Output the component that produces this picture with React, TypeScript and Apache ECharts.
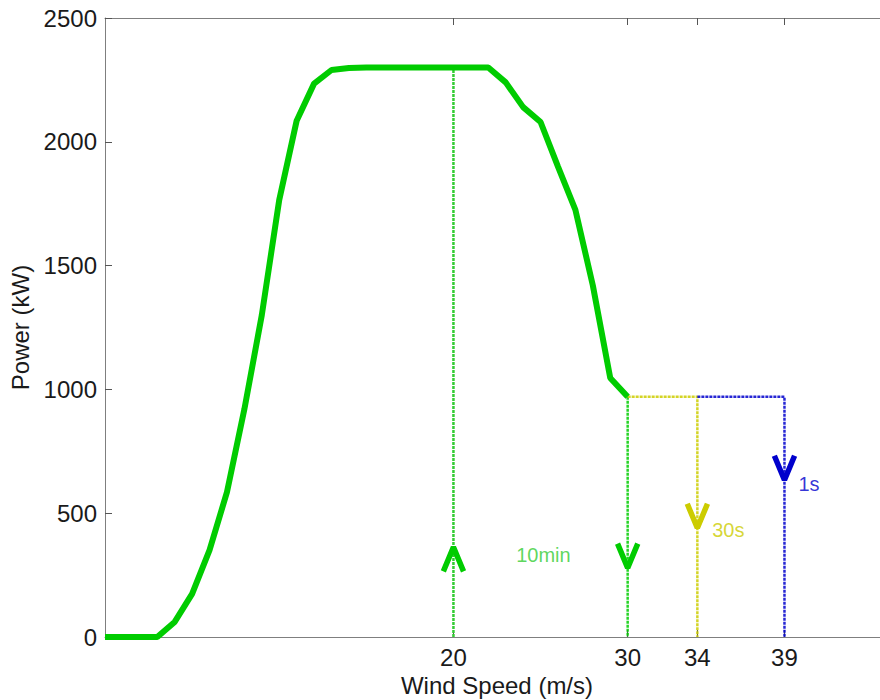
import React, { useEffect, useRef } from "react";
import * as echarts from "echarts";

// Power curve (wind speed m/s -> power kW)
const windSpeed = [0, 1, 2, 3, 4, 5, 6, 7, 8, 9, 10, 11, 12, 13, 14, 15, 16, 17, 18, 19, 20, 21, 22, 23, 24, 25, 26, 27, 28, 29, 30];
const power = [0, 0, 0, 0, 61, 174, 351, 585, 920, 1300, 1765, 2085, 2235, 2290, 2298, 2300, 2300, 2300, 2300, 2300, 2300, 2300, 2300, 2240, 2140, 2080, 1900, 1725, 1420, 1046, 970];

const xTicks = [20, 30, 34, 39];
const restartSpeed = 20;
const ratedPower = 2300;
const reducedPower = 970;
const cutoutSpeeds = [30, 34, 39];
const cutoutLabels = ["10min", "30s", "1s"];
const cutoutColors = ["#00cc00", "#cccc00", "#0000cc"];
const labelColors = ["#33cc33", "#cccc00", "#0000cc"];
const labelX = [23.6, 34.85, 39.8];
const labelY = [331, 432, 618];
const arrowTipUp = 363; // restart arrow (x = 20)
const arrowTipDown = [279, 440, 634];

const FONT = "'Liberation Sans', Arial, Helvetica, sans-serif";

export default function App() {
  const ref = useRef<HTMLDivElement>(null);
  useEffect(() => {
    if (!ref.current) return;
    document.body.style.margin = "0";
    document.body.style.overflow = "hidden";
    const chart = echarts.init(ref.current, null, { renderer: "svg" });
    const dx = 0.58;
    const dy = 98;
    const dash = [3, 1];

    const series: any[] = [];
    series.push({
      type: "line",
      data: [[restartSpeed, 0], [restartSpeed, ratedPower]],
      symbol: "none",
      lineStyle: { color: "#33cc33", width: 2.5, type: dash },
      z: 2,
    });
    cutoutSpeeds.forEach((s, i) => {
      const prev = i === 0 ? windSpeed[windSpeed.length - 1] : cutoutSpeeds[i - 1];
      const data = i === 0 ? [[s, reducedPower], [s, 0]] : [[prev, reducedPower], [s, reducedPower], [s, 0]];
      series.push({
        type: "line",
        data,
        symbol: "none",
        lineStyle: { color: cutoutColors[i], width: 2.5, type: dash, opacity: 0.85 },
        z: 2,
      });
    });
    series.push({
      type: "line",
      data: windSpeed.map((w, i) => [w, power[i]]),
      symbol: "none",
      lineStyle: { color: "#00cc00", width: 6 },
      z: 5,
    });
    series.push({
      type: "line",
      data: [[restartSpeed - dx, arrowTipUp - dy], [restartSpeed, arrowTipUp], [restartSpeed + dx, arrowTipUp - dy]],
      symbol: "none",
      lineStyle: { color: "#00cc00", width: 5.5 },
      z: 6,
    });
    cutoutSpeeds.forEach((s, i) => {
      series.push({
        type: "line",
        data: [[s - dx, arrowTipDown[i] + dy], [s, arrowTipDown[i]], [s + dx, arrowTipDown[i] + dy]],
        symbol: "none",
        lineStyle: { color: cutoutColors[i], width: 5.5 },
        z: 6,
      });
    });
    series.push({
      type: "scatter",
      symbolSize: 0,
      data: cutoutLabels.map((t, i) => ({
        value: [labelX[i], labelY[i]],
        name: t,
        label: { color: labelColors[i] },
      })),
      label: {
        show: true,
        position: "right",
        distance: 0,
        formatter: (p: any) => p.name,
        fontSize: 20,
        fontFamily: FONT,
      },
      z: 7,
    });

    const axisLineStyle = { color: "#7f7f7f", width: 1 };
    const tickStyle = { color: "#555555", width: 1 };

    chart.setOption({
      animation: false,
      grid: { left: 105, right: 11, top: 18, bottom: 63, outerBoundsMode: "none", containLabel: false },
      xAxis: [
        {
          type: "value",
          min: 0,
          max: 45,
          position: "bottom",
          axisLine: { show: true, onZero: false, lineStyle: axisLineStyle },
          axisTick: { show: true, inside: true, length: 7, customValues: xTicks, lineStyle: tickStyle },
          axisLabel: { customValues: xTicks, fontSize: 24, color: "#1a1a1a", margin: 8, fontFamily: FONT },
          splitLine: { show: false },
          name: "Wind Speed (m/s)",
          nameLocation: "middle",
          nameGap: 36,
          nameTextStyle: { fontSize: 24, color: "#1a1a1a", fontFamily: FONT },
        },
        {
          type: "value",
          min: 0,
          max: 45,
          position: "top",
          axisLine: { show: true, onZero: false, lineStyle: axisLineStyle },
          axisTick: { show: true, inside: true, length: 7, customValues: xTicks, lineStyle: tickStyle },
          axisLabel: { show: false },
          splitLine: { show: false },
        },
      ],
      yAxis: [
        {
          type: "value",
          min: 0,
          max: 2500,
          interval: 500,
          position: "left",
          axisLine: { show: true, onZero: false, lineStyle: axisLineStyle },
          axisTick: { show: true, inside: true, length: 7, lineStyle: tickStyle },
          axisLabel: { fontSize: 24, color: "#1a1a1a", margin: 8, fontFamily: FONT, formatter: (v: number) => String(v) },
          splitLine: { show: false },
          name: "Power (kW)",
          nameLocation: "middle",
          nameGap: 72,
          nameRotate: 90,
          nameTextStyle: { fontSize: 24, color: "#1a1a1a", fontFamily: FONT },
        },
      ],
      series,
    });
    return () => chart.dispose();
  }, []);

  return (
    <div style={{ position: "fixed", left: 0, top: 0, width: 880, height: 700, overflow: "hidden", background: "#fff" }}>
      <div ref={ref} style={{ position: "absolute", left: 0, top: 0, width: 900, height: 700 }} />
    </div>
  );
}
